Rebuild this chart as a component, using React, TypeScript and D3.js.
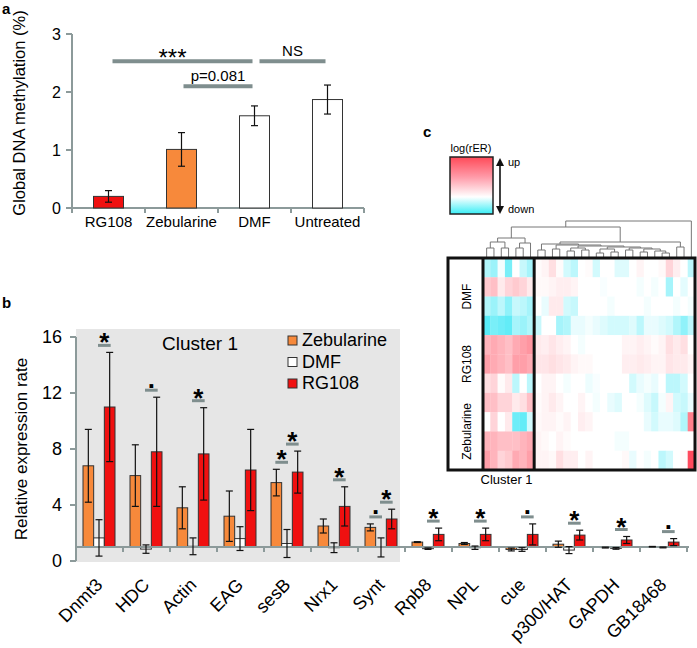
/**
 * App.tsx
 * DNA methylation + qPCR expression + log(rER) heatmap figure (panels a, b, c)
 */

import React from 'react';
import * as d3 from 'd3';

// ─── Data: panel a ───────────────────────────────────────────

const methylGroups = ['RG108', 'Zebularine', 'DMF', 'Untreated'];
const methylMean = [0.2, 1.01, 1.59, 1.87];
const methylErr = [0.1, 0.29, 0.17, 0.25];
const methylTicks = [0, 1, 2, 3];

// ─── Data: panel b ───────────────────────────────────────────

const genes = ['Dnmt3', 'HDC', 'Actin', 'EAG', 'sesB', 'Nrx1', 'Synt',
  'Rpb8', 'NPL', 'cue', 'p300/HAT', 'GAPDH', 'GB18468'];
const series = ['Zebularine', 'DMF', 'RG108'];
const zebMean = [6.8, 6.1, 3.8, 3.2, 5.6, 2.5, 2.4, 1.35, 1.25, 0.82, 1.2, 0.96, 1.02];
const zebErr = [2.6, 2.2, 1.5, 1.8, 0.95, 0.5, 0.25, 0.03, 0.07, 0.1, 0.22, 0.03, 0.02];
const dmfMean = [1.65, 0.85, 1.05, 1.6, 1.25, 0.95, 0.97, 0.88, 0.95, 0.82, 0.78, 0.9, 0.97];
const dmfErr = [1.3, 0.3, 0.6, 0.85, 1.0, 0.35, 0.68, 0.05, 0.12, 0.13, 0.25, 0.06, 0.03];
const rgMean = [11.0, 7.8, 7.65, 6.5, 6.35, 3.9, 3.0, 1.9, 1.9, 1.9, 1.85, 1.5, 1.35];
const rgErr = [3.9, 3.9, 3.3, 2.9, 1.5, 1.4, 0.7, 0.45, 0.45, 0.75, 0.35, 0.25, 0.25];
const exprTicks = [0, 4, 8, 12, 16];
const cluster1Genes = ['Dnmt3', 'HDC', 'Actin', 'EAG', 'sesB', 'Nrx1', 'Synt'];

// significance marks: gene, compared pair, symbol
const sigGene = ['Dnmt3', 'HDC', 'Actin', 'sesB', 'sesB', 'Nrx1', 'Synt', 'Synt',
  'Rpb8', 'NPL', 'cue', 'p300/HAT', 'GAPDH', 'GB18468'];
const sigPair = [
  ['DMF', 'RG108'], ['DMF', 'RG108'], ['DMF', 'RG108'], ['Zebularine', 'DMF'],
  ['DMF', 'RG108'], ['DMF', 'RG108'], ['Zebularine', 'DMF'], ['DMF', 'RG108'],
  ['DMF', 'RG108'], ['DMF', 'RG108'], ['DMF', 'RG108'], ['DMF', 'RG108'],
  ['DMF', 'RG108'], ['DMF', 'RG108'],
];
const sigMark = ['*', '.', '*', '*', '*', '*', '.', '*', '*', '*', '.', '*', '*', '.'];

// ─── Data: panel c ───────────────────────────────────────────

const hmGroups = ['DMF', 'RG108', 'Zebularine'];
const hmGroupRows = [4, 3, 4];
const hmCluster1Cols = 7;
const hmValues: number[][] = [
  // DMF
  [-0.35, -0.45, -0.05, -0.6, 0, -0.25, -0.4,
    0.02, 0.05, 0.15, 0.02, -0.2, -0.3, 0, 0.02, -0.2, 0, 0, -0.15, -0.15, 0, 0.05, 0, 0, 0.03, 0.2, 0.08, 0, -0.3],
  [0.25, 0.3, 0.1, 0.2, 0.25, 0.2, 0.1,
    0.03, 0.03, 0.05, 0.08, 0.08, 0.05, 0, 0, 0, -0.03, 0, 0, 0, 0, -0.05, 0, -0.05, 0, -0.4, 0, -0.12, 0],
  [-0.35, -0.45, -0.3, -0.5, -0.25, -0.3, -0.4,
    0, -0.1, 0.1, 0.1, -0.2, -0.25, 0, 0, 0, 0, -0.05, 0, 0, 0, 0, -0.05, 0, 0, 0, -0.05, 0, -0.05],
  [-0.75, -0.6, -0.65, -0.7, -0.4, -0.45, -0.35,
    -0.25, 0, 0, -0.4, -0.35, -0.1, -0.1, -0.05, -0.1, -0.15, -0.2, -0.2, -0.2, -0.15, -0.3, -0.1, -0.1, -0.15, -0.2, -0.35, -0.5, -0.3],
  // RG108
  [0.35, 0.4, 0.35, 0.3, 0.4, 0.45, 0.5,
    0.1, 0.08, 0.12, 0.08, 0.05, 0, -0.05, 0, 0, 0, 0, 0, 0.05, 0.05, 0.08, 0.05, 0.02, 0.05, 0.15, 0.1, 0.15, 0],
  [0.45, 0.4, 0.35, 0.3, 0.45, 0.45, 0.4,
    0.12, 0.12, 0.15, 0.12, 0.1, 0.05, 0.03, 0.03, 0, 0, 0, 0, 0.08, 0.08, 0.1, 0.08, 0.05, 0.05, 0.12, 0.1, 0.1, 0.05],
  [0.15, 0.2, 0.02, 0.1, -0.3, 0, -0.3,
    0, 0.05, 0.05, 0, -0.05, 0, 0, -0.08, -0.03, 0, 0, 0, 0, -0.2, -0.1, -0.05, -0.1, 0, -0.3, -0.3, -0.2, 0],
  // Zebularine
  [0.3, 0.3, 0.2, 0.2, 0.1, 0.15, 0.3,
    0.02, 0.05, 0.1, 0.05, 0, 0, 0.05, 0, -0.05, 0, -0.1, -0.15, 0, 0, -0.05, -0.15, -0.25, -0.05, 0.05, -0.2, -0.25, -0.1],
  [0, 0.2, 0, 0.1, -0.65, -0.7, -0.2,
    0.03, 0.05, 0.05, 0.02, 0.05, 0, 0.08, 0.05, 0, 0, 0, 0, 0, 0, 0, -0.1, -0.2, -0.1, -0.1, -0.15, -0.35, 0.6],
  [0.35, 0.35, 0.3, 0.3, 0.3, 0.35, 0.4,
    0.05, 0.03, 0, 0.05, 0.02, 0, 0, 0, 0, 0, 0, -0.05, -0.05, 0, 0, 0, 0, 0, 0, 0, 0, 0],
  [0.45, 0.35, 0.2, 0.25, 0.4, 0.35, 0.45,
    0.05, 0.05, 0.03, 0.15, 0.08, 0.08, 0, 0.05, 0, 0, 0, 0, 0.03, -0.1, 0, -0.05, 0, -0.3, -0.2, 0, 0.02, 0.85],
];

// dendrogram: number = leaf column, [height, left, right] = merge
type Tree = number | [number, Tree, Tree];
const dendro: Tree =
  [36,
    [30,
      [19, [15, [9, 0, 1], [9, 2, 3]], [14, [9, 4, 5], 6]],
      [15,
        [13, [7, 7, 8],
          [12, [8, 9, 10],
            [11, [9, [6, 11, 12], [7, 13, 14]],
              [10, [8, [4, 15, 16], [5, 17, 18]],
                [9, [7, 19, 20], [8, [5, 21, 22], [6, 23, [4, 24, 25]]]]]]]],
        [10, 26, 27]]],
    28];

// ─── Styles ──────────────────────────────────────────────────

const FONT = 'Arial, "Liberation Sans", sans-serif';
const AXIS = '#8c9a9a';
const SIG = '#7f8e8e';
const seriesColor: Record<string, string> = {
  Zebularine: '#f7893b', DMF: '#ffffff', RG108: '#f01010',
};
const methylColor = ['#f01010', '#f7893b', '#ffffff', '#ffffff'];

const hmColor = d3.scaleLinear<string>()
  .domain([-1, 0, 1])
  .range(['#20e4f4', '#ffffff', '#ff2a40'])
  .clamp(true);

// ─── Error bar helper ────────────────────────────────────────

const ErrBar: React.FC<{ x: number; y1: number; y2: number; cap?: number }> = ({ x, y1, y2, cap = 3.5 }) => (
  <g stroke="#111" strokeWidth={1.2}>
    <line x1={x} x2={x} y1={y1} y2={y2} />
    <line x1={x - cap} x2={x + cap} y1={y1} y2={y1} />
    <line x1={x - cap} x2={x + cap} y1={y2} y2={y2} />
  </g>
);

// ─── Panel a ─────────────────────────────────────────────────

const PanelA: React.FC = () => {
  const x = d3.scaleBand().domain(methylGroups).range([72, 364]);
  const y = d3.scaleLinear().domain([0, 3]).range([208, 34]);
  const bw = 30;
  const cx = (g: string) => (x(g) ?? 0) + x.bandwidth() / 2;

  const sigLines = [
    { from: 'RG108', to: 'DMF', level: 2.53, text: '***', size: 24, dy: 5, x1o: 4, x2o: -2, shift: -10 },
    { from: 'DMF', to: 'Untreated', level: 2.53, text: 'NS', size: 15, dy: -5, x1o: 5, x2o: -2, shift: 0 },
    { from: 'Zebularine', to: 'DMF', level: 2.1, text: 'p=0.081', size: 15, dy: -5, x1o: 2, x2o: -2, shift: 0 },
  ];

  return (
    <g fontFamily={FONT}>
      <text x={2} y={14} fontSize={15} fontWeight="bold">a</text>
      {/* axes */}
      <line x1={72} x2={72} y1={y(3)} y2={y(0)} stroke={AXIS} strokeWidth={2} />
      <line x1={66} x2={364} y1={y(0)} y2={y(0)} stroke={AXIS} strokeWidth={2} />
      {methylTicks.map(t => (
        <g key={t}>
          <line x1={66} x2={72} y1={y(t)} y2={y(t)} stroke={AXIS} strokeWidth={2} />
          <text x={61} y={y(t)} dy="0.35em" textAnchor="end" fontSize={16}>{t}</text>
        </g>
      ))}
      {[...methylGroups.map(g => x(g) ?? 0), 364].map((v, i) => (
        <line key={i} x1={v} x2={v} y1={y(0)} y2={y(0) + 5} stroke={AXIS} strokeWidth={2} />
      ))}
      {methylGroups.map(g => (
        <text key={g} x={cx(g)} y={227} textAnchor="middle" fontSize={15}>{g}</text>
      ))}
      <text transform={`translate(25,${(y(0) + y(3)) / 2 - 8}) rotate(-90)`} textAnchor="middle" fontSize={16.5}>
        Global DNA methylation (%)
      </text>

      {/* bars */}
      {methylGroups.map((g, i) => (
        <g key={g}>
          <rect x={cx(g) - bw / 2} y={y(methylMean[i])} width={bw} height={y(0) - y(methylMean[i])}
            fill={methylColor[i]} stroke="#333" strokeWidth={1} />
          <ErrBar x={cx(g)} y1={y(methylMean[i] + methylErr[i])} y2={y(methylMean[i] - methylErr[i])} />
        </g>
      ))}

      {/* significance */}
      {sigLines.map(s => {
        const x1 = cx(s.from) + s.x1o;
        const x2 = cx(s.to) + s.x2o;
        return (
          <g key={s.text}>
            <line x1={x1} x2={x2} y1={y(s.level)} y2={y(s.level)} stroke={SIG} strokeWidth={4} />
            <text x={(x1 + x2) / 2 + s.shift} y={y(s.level) + s.dy} textAnchor="middle" fontSize={s.size}>
              {s.text}
            </text>
          </g>
        );
      })}
    </g>
  );
};

// ─── Panel b ─────────────────────────────────────────────────

const PanelB: React.FC = () => {
  const x = d3.scaleBand().domain(genes).range([76, 687]);
  const sub = d3.scaleBand().domain(series).range([7, 39]);
  const y = d3.scaleLinear().domain([0, 16]).range([561, 337]);
  const base = y(1);
  const means: Record<string, number[]> = { Zebularine: zebMean, DMF: dmfMean, RG108: rgMean };
  const errs: Record<string, number[]> = { Zebularine: zebErr, DMF: dmfErr, RG108: rgErr };
  const barCx = (g: string, s: string) => (x(g) ?? 0) + (sub(s) ?? 0) + sub.bandwidth() / 2;
  const grayRight = (x(cluster1Genes[cluster1Genes.length - 1]) ?? 0) + 42;

  return (
    <g fontFamily={FONT}>
      <text x={2} y={308} fontSize={15} fontWeight="bold">b</text>
      <rect x={76} y={329} width={grayRight - 76} height={562 - 329} fill="#e6e6e6" />
      <text x={162} y={350} fontSize={19}>Cluster 1</text>

      {/* legend */}
      {series.map((s, i) => (
        <g key={s}>
          <rect x={288} y={336 + i * 21.5} width={9} height={9} fill={seriesColor[s]} stroke="#333" strokeWidth={1} />
          <text x={302} y={346 + i * 21.5} fontSize={18}>{s}</text>
        </g>
      ))}

      {/* y axis */}
      <line x1={76} x2={76} y1={y(16)} y2={y(0)} stroke={AXIS} strokeWidth={2} />
      {exprTicks.map(t => (
        <g key={t}>
          <line x1={70} x2={76} y1={y(t)} y2={y(t)} stroke={AXIS} strokeWidth={2} />
          <text x={62} y={y(t)} dy="0.35em" textAnchor="end" fontSize={18}>{t}</text>
        </g>
      ))}
      <text transform={`translate(27,${(y(0) + y(16)) / 2}) rotate(-90)`} textAnchor="middle" fontSize={17}>
        Relative expression rate
      </text>

      {/* bars */}
      {genes.map((g, gi) => (
        <g key={g}>
          {series.map(s => {
            const v = means[s][gi];
            const yv = y(v);
            return (
              <rect key={s} x={(x(g) ?? 0) + (sub(s) ?? 0)} y={Math.min(yv, base)}
                width={sub.bandwidth()} height={Math.abs(base - yv)}
                fill={seriesColor[s]} stroke="#333" strokeWidth={1} />
            );
          })}
        </g>
      ))}

      {/* x axis at 1 */}
      <line x1={76} x2={689} y1={base} y2={base} stroke={AXIS} strokeWidth={2} />
      {[...genes.map(g => x(g) ?? 0), 687].map((v, i) => (
        <line key={i} x1={v} x2={v} y1={base} y2={base + 5} stroke={AXIS} strokeWidth={2} />
      ))}

      {/* error bars */}
      {genes.map((g, gi) => series.map(s => {
        const v = means[s][gi];
        const e = errs[s][gi];
        return <ErrBar key={g + s} x={barCx(g, s)} y1={y(v + e)} y2={y(v - e)} />;
      }))}

      {/* significance marks */}
      {sigGene.map((g, i) => {
        const gi = genes.indexOf(g);
        const [a, b] = sigPair[i];
        const top = Math.max(means[a][gi] + errs[a][gi], means[b][gi] + errs[b][gi]);
        const ly = y(top) - 7;
        const x1 = barCx(g, a) - 1;
        const x2 = barCx(g, b) + 1;
        return (
          <g key={i}>
            <line x1={x1} x2={x2} y1={ly} y2={ly} stroke={SIG} strokeWidth={3} />
            <text x={(x1 + x2) / 2} y={sigMark[i] === '*' ? ly + 6 : ly - 2.5} textAnchor="middle"
              fontSize={26} fontWeight="bold">{sigMark[i]}</text>
          </g>
        );
      })}

      {/* gene labels */}
      {genes.map(g => {
        const ax = (x(g) ?? 0) + x.bandwidth() / 2 + 4;
        return (
          <text key={g} transform={`translate(${ax},586) rotate(-45)`} textAnchor="end" fontSize={18}>{g}</text>
        );
      })}
    </g>
  );
};

// ─── Panel c ─────────────────────────────────────────────────

const PanelC: React.FC = () => {
  const left = 448, labelW = 35, right = 695, top = 258, bottom = 470;
  const nCols = hmValues[0].length;
  const nRows = hmValues.length;
  const xc = d3.scaleBand<number>().domain(d3.range(nCols)).range([left + labelW, right]);
  const yr = d3.scaleBand<number>().domain(d3.range(nRows)).range([top, bottom]);
  const yh = d3.scaleLinear().domain([0, 36]).range([257, 221]);

  // dendrogram segments
  const segs: [number, number, number, number][] = [];
  const walk = (t: Tree): { x: number; y: number } => {
    if (typeof t === 'number') return { x: (xc(t) ?? 0) + xc.bandwidth() / 2, y: yh(0) };
    const [h, l, r] = t;
    const a = walk(l), b = walk(r);
    const ny = yh(h);
    segs.push([a.x, ny, b.x, ny], [a.x, ny, a.x, a.y], [b.x, ny, b.x, b.y]);
    return { x: (a.x + b.x) / 2, y: ny };
  };
  walk(dendro);

  const groupStarts = d3.cumsum([0, ...hmGroupRows]);
  const divX = (xc(hmCluster1Cols) ?? 0);

  const legendGrad = 'lgc';

  return (
    <g fontFamily={FONT}>
      <text x={423} y={137} fontSize={15} fontWeight="bold">c</text>

      {/* color key */}
      <defs>
        <linearGradient id={legendGrad} x1="0" x2="0" y1="0" y2="1">
          <stop offset="0" stopColor="#ff4a58" />
          <stop offset="0.35" stopColor="#ff9aa8" />
          <stop offset="0.7" stopColor="#ffffff" />
          <stop offset="1" stopColor="#38eef6" />
        </linearGradient>
        <marker id="ah" viewBox="0 0 10 10" refX="5" refY="5" markerWidth="5" markerHeight="5" orient="auto-start-reverse">
          <path d="M0,0 L10,5 L0,10 z" fill="#111" />
        </marker>
      </defs>
      <text x={471} y={152} textAnchor="middle" fontSize={11}>log(rER)</text>
      <rect x={450} y={157} width={43} height={57} fill={`url(#${legendGrad})`} stroke="#222" strokeWidth={1.5} />
      <line x1={500} x2={500} y1={162} y2={210} stroke="#111" strokeWidth={1.6}
        markerStart="url(#ah)" markerEnd="url(#ah)" />
      <text x={508} y={166} fontSize={11}>up</text>
      <text x={508} y={213} fontSize={11}>down</text>

      {/* dendrogram */}
      {segs.map((s, i) => (
        <line key={i} x1={s[0]} y1={s[1]} x2={s[2]} y2={s[3]} stroke="#777" strokeWidth={1} />
      ))}

      {/* cells */}
      <rect x={left} y={top} width={right - left} height={bottom - top} fill="#fff" />
      {hmValues.map((row, ri) => row.map((v, ci) => (
        <rect key={`${ri}-${ci}`} x={xc(ci)} y={yr(ri)} width={xc.bandwidth() + 0.3} height={yr.bandwidth() + 0.3}
          fill={hmColor(v)} />
      )))}

      {/* frame */}
      <g stroke="#111" strokeWidth={3} fill="none">
        <rect x={left} y={top} width={right - left} height={bottom - top} />
        <line x1={left + labelW} x2={left + labelW} y1={top} y2={bottom} />
        <line x1={divX} x2={divX} y1={top} y2={bottom} />
        {groupStarts.slice(1, -1).map(gs => (
          <line key={gs} x1={left} x2={right} y1={yr(gs)} y2={yr(gs)} />
        ))}
      </g>

      {hmGroups.map((g, i) => {
        const y0 = yr(groupStarts[i]) ?? 0;
        const y1 = groupStarts[i + 1] < nRows ? (yr(groupStarts[i + 1]) ?? 0) : bottom;
        return (
          <text key={g} transform={`translate(${left + labelW / 2 + 1},${(y0 + y1) / 2}) rotate(-90)`}
            textAnchor="middle" dy="0.35em" fontSize={12}>{g}</text>
        );
      })}
      <text x={(left + labelW + divX) / 2 - 2} y={484} textAnchor="middle" fontSize={13}>Cluster 1</text>
    </g>
  );
};

// ─── App ─────────────────────────────────────────────────────

const App: React.FC = () => (
  <div style={{ position: 'absolute', left: 0, top: 0, background: '#fff' }}>
    <svg width={697} height={648} style={{ display: 'block' }}>
      <rect width={697} height={648} fill="#fff" />
      <PanelA />
      <PanelB />
      <PanelC />
    </svg>
  </div>
);

export default App;
